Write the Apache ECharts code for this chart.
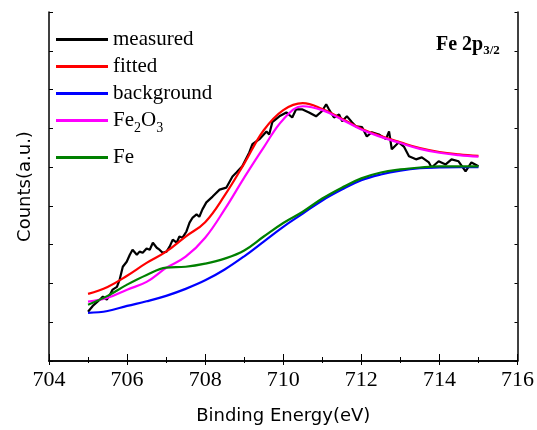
<!DOCTYPE html>
<html><head><meta charset="utf-8">
<script src="https://cdn.jsdelivr.net/npm/echarts@6/dist/echarts.min.js"></script>
<style>html,body{margin:0;padding:0;background:#fff}#c{width:537px;height:430px}</style>
</head><body><div id="c"></div>
<script>
// Measured spectrum (binding energy, counts a.u.)
const measuredE = [705.00,705.12,705.30,705.38,705.48,705.56,705.63,705.74,705.81,705.89,705.99,706.07,706.14,706.25,706.32,706.40,706.50,706.58,706.66,706.76,706.83,706.91,707.01,707.09,707.17,707.27,707.34,707.42,707.52,707.60,707.68,707.78,707.85,707.93,708.03,708.19,708.37,708.54,708.70,708.80,708.95,709.13,709.21,709.39,709.57,709.64,709.72,709.90,710.08,710.23,710.33,710.48,710.66,710.84,710.99,711.10,711.17,711.30,711.43,711.51,711.63,711.76,711.86,712.02,712.14,712.27,712.45,712.63,712.71,712.78,712.96,713.09,713.22,713.40,713.55,713.73,713.80,713.98,714.16,714.31,714.49,714.67,714.82,715.00];
const measuredY = [1.27,1.42,1.58,1.66,1.58,1.71,1.84,1.91,2.10,2.43,2.56,2.74,2.87,2.74,2.82,2.79,2.90,2.87,3.05,2.92,2.87,2.79,2.82,2.95,3.13,3.05,3.21,3.18,3.34,3.57,3.70,3.78,3.72,3.91,4.09,4.24,4.42,4.47,4.76,4.86,5.02,5.38,5.59,5.72,5.92,5.84,6.16,6.31,6.41,6.28,6.49,6.49,6.41,6.31,6.44,6.62,6.49,6.28,6.36,6.18,6.31,6.16,6.05,6.03,5.79,5.90,5.84,5.72,5.92,5.46,5.64,5.53,5.28,5.20,5.25,5.12,4.99,5.15,5.07,5.20,5.15,4.89,5.12,5.02];
// Fit components on a common energy grid
const fitE = [705,705.5,706,706.5,707,707.5,708,708.5,709,709.5,710,710.5,711,711.5,712,712.5,713,713.5,714,714.5,715];
const fittedY = [1.73,1.91,2.20,2.53,2.82,3.21,3.58,4.27,5.09,5.95,6.47,6.65,6.50,6.25,5.99,5.80,5.64,5.49,5.39,5.33,5.29];
const backgroundY = [1.24,1.29,1.42,1.54,1.68,1.86,2.08,2.36,2.70,3.08,3.46,3.80,4.14,4.42,4.66,4.81,4.91,4.97,4.99,5.00,5.00];
const fe2o3Y = [1.53,1.63,1.84,2.04,2.40,2.69,3.18,3.91,4.73,5.51,6.23,6.57,6.47,6.23,5.97,5.78,5.62,5.47,5.37,5.31,5.27];
const feY = [1.45,1.68,1.97,2.22,2.41,2.43,2.51,2.64,2.85,3.21,3.56,3.85,4.19,4.47,4.71,4.86,4.94,4.99,5.02,5.02,5.02];
const xTicks = [704,706,708,710,712,714,716];

const serif = 'Liberation Serif';
const pair = (xs, ys) => xs.map((x, i) => [x, ys[i]]);
const chart = echarts.init(document.getElementById('c'));
const lineS = (name, xs, ys, color, smooth, z) => ({
  name, type: 'line', data: pair(xs, ys), symbol: 'none', smooth: smooth ? 0.4 : false, z,
  lineStyle: {color, width: 2.2}, itemStyle: {color}, animation: false
});
const legendText = {fontFamily: serif, fontSize: 21, color: '#000', rich: {
  n: {fontFamily: serif, fontSize: 21, color: '#000'},
  s: {fontFamily: serif, fontSize: 14, color: '#000', padding: [16, 0, 0, 0]}
}};
const legendBase = {orient: 'vertical', left: 51, itemWidth: 52, itemHeight: 3, itemGap: 6, icon: 'rect',
  formatter: n => n === 'Fe2O3' ? '{n|Fe}{s|2}{n|O}{s|3}' : '{n|' + n + '}', textStyle: legendText};
chart.setOption({
  animation: false,
  grid: {left: 49, right: 18, top: 12, bottom: 69},
  title: {
    text: '{b|Fe 2p}{s|3/2}', left: 431, top: 28,
    textStyle: {rich: {
      b: {fontFamily: serif, fontSize: 20, fontWeight: 'bold', color: '#000'},
      s: {fontFamily: serif, fontSize: 13, fontWeight: 'bold', color: '#000', padding: [11, 0, 0, 0]}
    }}
  },
  legend: [
    Object.assign({}, legendBase, {top: 24, data: ['measured', 'fitted', 'background', 'Fe2O3']}),
    Object.assign({}, legendBase, {top: 142, data: ['Fe']})
  ],
  xAxis: [{
    type: 'value', min: 704, max: 716, interval: 2,
    name: 'Binding Energy(eV)', nameLocation: 'middle', nameGap: 46,
    nameTextStyle: {fontFamily: 'DejaVu Sans', fontSize: 18, color: '#000'},
    axisLine: {lineStyle: {color: '#000', width: 1.5}},
    axisTick: {inside: true, length: 7, lineStyle: {color: '#000'}},
    minorTick: {show: true, splitNumber: 2, length: 4, lineStyle: {color: '#000'}},
    axisLabel: {fontFamily: serif, fontSize: 22, color: '#000', margin: 8,
      formatter: v => xTicks.includes(v) ? String(v) : ''},
    splitLine: {show: false}
  }, {
    type: 'value', min: 704, max: 716, interval: 2, position: 'top',
    axisLine: {lineStyle: {color: '#000', width: 1.5}},
    axisTick: {inside: true, length: 4, lineStyle: {color: '#000'}},
    minorTick: {show: true, splitNumber: 2, length: 2, lineStyle: {color: '#000'}},
    axisLabel: {show: false}, splitLine: {show: false}
  }],
  yAxis: [{
    type: 'value', min: 0, max: 9, interval: 1,
    name: 'Counts(a.u.)', nameLocation: 'middle', nameGap: 15,
    nameTextStyle: {fontFamily: 'DejaVu Sans', fontSize: 18, color: '#000'},
    axisLine: {show: true, lineStyle: {color: '#000', width: 1.5}},
    axisTick: {show: true, inside: true, length: 4, lineStyle: {color: '#000'}},
    axisLabel: {show: false}, splitLine: {show: false}
  }, {
    type: 'value', min: 0, max: 9, interval: 1, position: 'right',
    axisLine: {show: true, lineStyle: {color: '#000', width: 1.5}},
    axisTick: {show: true, inside: true, length: 3, lineStyle: {color: '#000'}},
    axisLabel: {show: false}, splitLine: {show: false}
  }],
  series: [
    lineS('measured', measuredE, measuredY, '#000000', false, 2),
    lineS('fitted', fitE, fittedY, '#ff0000', true, 3),
    lineS('background', fitE, backgroundY, '#0000ff', true, 4),
    lineS('Fe2O3', fitE, fe2o3Y, '#ff00ff', true, 5),
    lineS('Fe', fitE, feY, '#008000', true, 6)
  ]
});
</script></body></html>
